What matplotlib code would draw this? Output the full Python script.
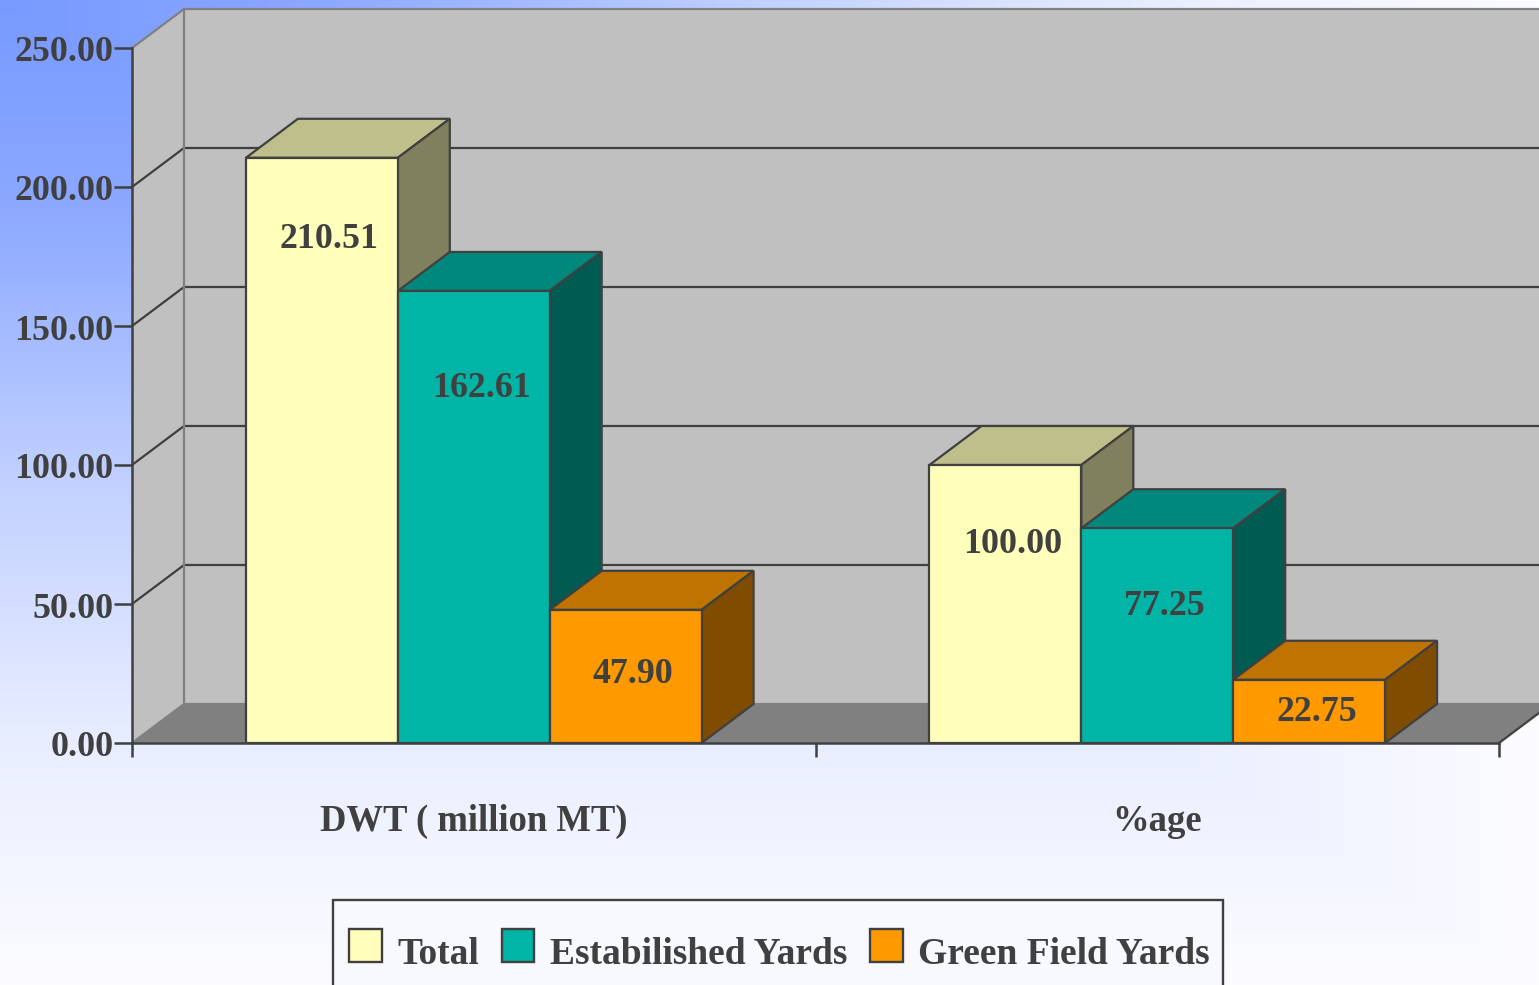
import numpy as np
import matplotlib
matplotlib.use('Agg')
import matplotlib.pyplot as plt
from matplotlib.patches import Patch, Polygon, Rectangle
from matplotlib.transforms import ScaledTranslation

plt.rcParams['font.family'] = ['Liberation Serif', 'DejaVu Serif']
plt.rcParams['font.weight'] = 'bold'

categories = ['DWT ( million MT)', '%age']
series_names = ['Total', 'Estabilished Yards', 'Green Field Yards']
total = [210.51, 100.00]
established = [162.61, 77.25]
green_field = [47.90, 22.75]
value_labels = [['210.51', '100.00'], ['162.61', '77.25'], ['47.90', '22.75']]
y_ticks = [0, 50, 100, 150, 200, 250]
y_tick_labels = ['0.00', '50.00', '100.00', '150.00', '200.00', '250.00']

# where the labels sit in each bar (value units)
label_heights = [[181.2, 71.3], [127.6, 49.2], [24.8, 10.9]]

front_colors = ['#FFFFBB', '#00B5A5', '#FF9900']
top_colors = ['#BFBF8C', '#00887C', '#BF7300']
side_colors = ['#80805E', '#005B53', '#804D00']
TEXT = '#404040'
EDGE = '#404040'

W, H = 1539, 985
fig = plt.figure(figsize=(W / 100, H / 100), dpi=100)

# background wash, a rectangular gradient out of the top left corner
bg = fig.add_axes([0, 0, 1, 1], zorder=0)
bg.axis('off')
yy, xx = np.mgrid[0:1:400j, 0:1:400j]
t = np.maximum(xx, yy)
t = np.interp(t, [0, 0.2, 0.5, 0.76, 1], [0, 0.14, 0.57, 0.86, 1])
c0 = np.array([0x78, 0x9A, 0xFF]) / 255
c1 = np.array([0xFC, 0xFC, 0xFF]) / 255
bg.imshow(c0 + (c1 - c0) * t[..., None], aspect='auto', extent=(0, 1, 1, 0), interpolation='bilinear')

L, R, T, B = 132, 1499, 48, 743
ax = fig.add_axes([L / W, 1 - B / H, (R - L) / W, (B - T) / H], zorder=1)
ax.set_xlim(0, 2)
ax.set_ylim(0, 250)
ax.patch.set_visible(False)

# depth of the fake 3d box, pixels converted to data units
dx = 52 * 2 / (R - L)
dy = 39 * 250 / (B - T)
right_end = 2 + dx


def poly(pts, fc, ec=EDGE, lw=1.6, z=2):
    ax.add_patch(Polygon(pts, closed=True, facecolor=fc, edgecolor=ec, linewidth=lw,
                         zorder=z, clip_on=False, joinstyle='miter'))


# walls and floor
poly([(dx, dy), (right_end, dy), (right_end, 250 + dy), (dx, 250 + dy)], '#C0C0C0', ec='none', lw=0, z=1)
poly([(0, 0), (dx, dy), (dx, 250 + dy), (0, 250)], '#C0C0C0', ec='none', lw=0, z=1)
poly([(0, 0), (2, 0), (right_end, dy), (dx, dy)], '#808080', ec='none', lw=0, z=1)

for v in y_ticks[1:-1]:
    ax.plot([0, dx, right_end], [v, v + dy, v + dy], color=EDGE, lw=1.6, zorder=1.5, clip_on=False)
ax.plot([0, dx, right_end], [250, 250 + dy, 250 + dy], color='#808080', lw=1.6, zorder=1.5, clip_on=False)
ax.plot([dx, dx], [dy, 250 + dy], color='#808080', lw=1.6, zorder=1.5, clip_on=False)
ax.plot([0, dx, right_end], [0, dy, dy], color='#808080', lw=1.6, zorder=1.5, clip_on=False)
ax.plot([2, right_end], [0, dy], color=EDGE, lw=1.6, zorder=1.5, clip_on=False)

# bars
width = 2 / 9
group_centers = [0.5, 1.5]
all_values = [total, established, green_field]
for g, gc in enumerate(group_centers):
    for s, vals in enumerate(all_values):
        v = vals[g]
        x0 = gc + (s - 1.5) * width
        x1 = x0 + width
        poly([(x0, v), (x1, v), (x1 + dx, v + dy), (x0 + dx, v + dy)], top_colors[s], z=3)
        poly([(x1, 0), (x1 + dx, dy), (x1 + dx, v + dy), (x1, v)], side_colors[s], z=3)
        poly([(x0, 0), (x1, 0), (x1, v), (x0, v)], front_colors[s], z=3)
        ax.text(x0 + width / 2 + 0.011, label_heights[s][g], value_labels[s][g], ha='center', va='center',
                fontsize=25.8, color=TEXT, zorder=5)

# axes
for name in ['top', 'right']:
    ax.spines[name].set_visible(False)
for name in ['left', 'bottom']:
    ax.spines[name].set_color(EDGE)
    ax.spines[name].set_linewidth(1.8)
    ax.spines[name].set_zorder(4)

ax.set_yticks(y_ticks)
ax.set_yticklabels(y_tick_labels, fontsize=25.8, color=TEXT)
ax.tick_params(axis='y', length=13, width=1.8, color=EDGE, pad=0.5)
down = ScaledTranslation(0, -1 / 100, fig.dpi_scale_trans)
for lab in ax.get_yticklabels():
    lab.set_transform(lab.get_transform() + down)
ax.set_xticks([0, 1, 2])
ax.set_xticklabels([])
ax.tick_params(axis='x', which='major', length=10, width=1.8, color=EDGE)
ax.set_xticks(group_centers, minor=True)
ax.set_xticklabels(categories, minor=True, fontsize=26.4, color=TEXT)
ax.tick_params(axis='x', which='minor', length=0, pad=44)

# legend, its frame runs off the bottom of the figure
fig.add_artist(Rectangle((333 / W, -0.02), (1223 - 333) / W, 1 - 900 / H + 0.02, transform=fig.transFigure,
                         facecolor='#F7F9FF', edgecolor=EDGE, linewidth=1.7, zorder=5))
handles = [Patch(facecolor=c, edgecolor=EDGE, linewidth=1.7) for c in front_colors]
leg = fig.legend(handles, series_names, ncols=3, loc='upper left',
                 bbox_to_anchor=(349 / W, 1 - 929 / H), bbox_transform=fig.transFigure,
                 fontsize=27, frameon=False, borderpad=0, borderaxespad=0,
                 handlelength=0.87, handleheight=0.96, handletextpad=0.42, columnspacing=0.6,
                 labelcolor=TEXT)
leg.set_zorder(6)
for txt in leg.get_texts():
    txt.set_position((0, -6))

fig.savefig('out.png', dpi=100)
